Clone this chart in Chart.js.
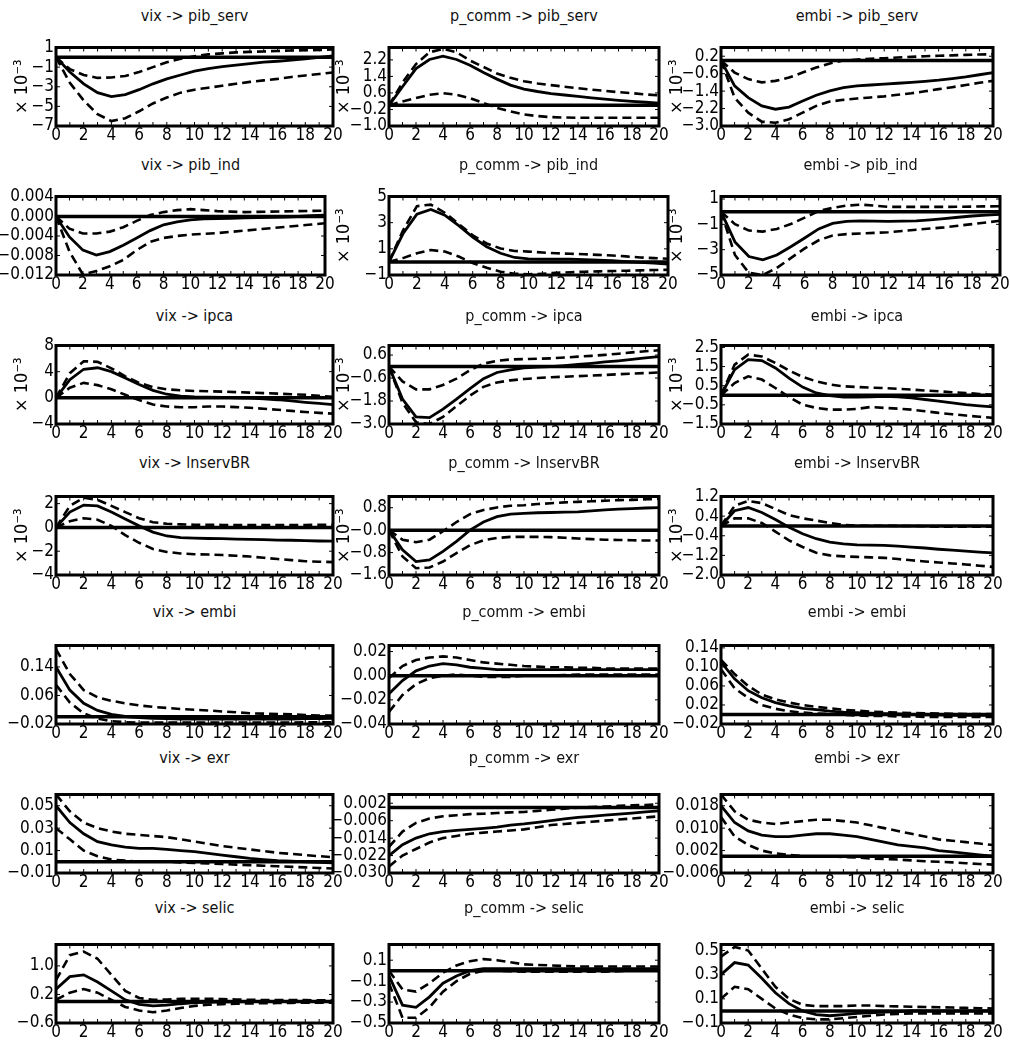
<!DOCTYPE html>
<html>
<head>
<meta charset="utf-8">
<script src="https://cdn.jsdelivr.net/npm/chart.js@4.4.1/dist/chart.umd.min.js"></script>
<style>
  body { margin: 0; background: #fff; }
  #page { position: relative; width: 1010px; height: 1041px; overflow: hidden; background: #fff; }
  #page canvas { position: absolute; }
  .title {
    position: absolute; text-align: center; white-space: nowrap;
    font: 16px "DejaVu Sans Condensed", "Liberation Sans Narrow", "DejaVu Sans", sans-serif;
    line-height: 20px; color: #111;
  }
</style>
</head>
<body>
<div id="page"></div>
<script>
// impulse response horizon (periods after the shock)
const horizon = [0, 1, 2, 3, 4, 5, 6, 7, 8, 9, 10, 11, 12, 13, 14, 15, 16, 17, 18, 19, 20];

// ---- pib_serv (x 10^-3) ----
const vixPibServ   = [0, -1.5, -2.7, -3.6, -4.0, -3.8, -3.3, -2.7, -2.2, -1.8, -1.4, -1.15, -0.95, -0.8, -0.65, -0.5, -0.4, -0.28, -0.15, 0.0, 0.15];
const vixPibServLo = [0, -2.6, -4.4, -5.8, -6.5, -6.2, -5.5, -4.7, -4.1, -3.6, -3.3, -3.1, -2.9, -2.7, -2.5, -2.35, -2.2, -2.0, -1.85, -1.7, -1.55];
const vixPibServHi = [0, -1.2, -1.8, -2.1, -2.05, -1.9, -1.5, -1.0, -0.5, -0.15, 0.1, 0.3, 0.4, 0.5, 0.55, 0.6, 0.65, 0.7, 0.72, 0.75, 0.8];
const vixPibServTicks = ['1', '-1', '-3', '-5', '-7'];

const pcommPibServ   = [0, 0.9, 1.78, 2.22, 2.38, 2.22, 1.94, 1.59, 1.27, 0.98, 0.79, 0.67, 0.57, 0.5, 0.43, 0.36, 0.3, 0.24, 0.19, 0.15, 0.11];
const pcommPibServLo = [0, 0.19, 0.35, 0.51, 0.59, 0.51, 0.35, 0.11, -0.13, -0.29, -0.44, -0.52, -0.57, -0.59, -0.6, -0.6, -0.6, -0.6, -0.6, -0.6, -0.6];
const pcommPibServHi = [0, 1.1, 2.0, 2.57, 2.73, 2.57, 2.17, 1.86, 1.54, 1.33, 1.17, 1.06, 0.98, 0.9, 0.83, 0.76, 0.7, 0.64, 0.59, 0.53, 0.48];
const pcommPibServTicks = ['2.2', '1.4', '0.6', '-0.2', '-1.0'];

const embiPibServ   = [0, -1.16, -1.7, -2.08, -2.23, -2.13, -1.85, -1.59, -1.39, -1.24, -1.16, -1.12, -1.08, -1.04, -1.0, -0.95, -0.9, -0.83, -0.75, -0.65, -0.55];
const embiPibServLo = [0, -1.7, -2.39, -2.8, -2.85, -2.69, -2.39, -2.08, -1.88, -1.8, -1.74, -1.69, -1.64, -1.57, -1.5, -1.41, -1.31, -1.22, -1.12, -1.02, -0.93];
const embiPibServHi = [0, -0.55, -0.85, -1.0, -0.93, -0.78, -0.55, -0.32, -0.13, 0.0, 0.05, 0.08, 0.11, 0.14, 0.17, 0.2, 0.22, 0.24, 0.26, 0.28, 0.29];
const embiPibServTicks = ['0.2', '-0.6', '-1.4', '-2.2', '-3.0'];

// ---- pib_ind ----
const vixPibInd   = [0, -0.0042, -0.0069, -0.0079, -0.0072, -0.0059, -0.0044, -0.0029, -0.0017, -0.0011, -0.0007, -0.0005, -0.00045, -0.0004, -0.0003, -0.00025, -0.0002, -0.0001, 0, 0.00015, 0.0003];
const vixPibIndLo = [0, -0.0072, -0.0119, -0.0112, -0.0102, -0.0089, -0.0069, -0.0052, -0.0044, -0.004, -0.0037, -0.00355, -0.0034, -0.00315, -0.0029, -0.00265, -0.0024, -0.00215, -0.0019, -0.00165, -0.0014];
const vixPibIndHi = [0, -0.0025, -0.0035, -0.0035, -0.0031, -0.0022, -0.0009, 0.0003, 0.0009, 0.0013, 0.0015, 0.0013, 0.0011, 0.001, 0.0009, 0.00095, 0.001, 0.00105, 0.0011, 0.00115, 0.0012];
const vixPibIndTicks = ['0.004', '0.000', '-0.004', '-0.008', '-0.012'];

const pcommPibInd   = [0, 2.15, 3.64, 4.01, 3.57, 2.77, 1.9, 1.16, 0.66, 0.34, 0.24, 0.22, 0.22, 0.22, 0.17, 0.13, 0.09, 0.03, -0.03, -0.1, -0.16];
const pcommPibIndLo = [0, 0.29, 0.66, 0.91, 0.79, 0.41, -0.08, -0.45, -0.75, -0.9, -0.95, -0.9, -0.83, -0.79, -0.75, -0.72, -0.7, -0.67, -0.65, -0.62, -0.6];
const pcommPibIndHi = [0, 2.4, 4.26, 4.38, 3.76, 2.9, 2.03, 1.41, 1.03, 0.84, 0.79, 0.72, 0.66, 0.62, 0.59, 0.54, 0.49, 0.42, 0.34, 0.29, 0.24];
const pcommPibIndTicks = ['5', '3', '1', '-1'];

const embiPibInd   = [0, -2.39, -3.54, -3.8, -3.42, -2.77, -2.08, -1.36, -0.93, -0.77, -0.72, -0.74, -0.77, -0.75, -0.72, -0.64, -0.54, -0.44, -0.34, -0.27, -0.21];
const embiPibIndLo = [0, -3.42, -4.83, -5.0, -4.44, -3.67, -2.9, -2.26, -1.88, -1.77, -1.72, -1.67, -1.62, -1.52, -1.42, -1.33, -1.24, -1.11, -0.98, -0.85, -0.72];
const embiPibIndHi = [0, -0.98, -1.49, -1.57, -1.36, -0.98, -0.47, 0.05, 0.3, 0.48, 0.56, 0.48, 0.38, 0.38, 0.38, 0.38, 0.38, 0.39, 0.4, 0.42, 0.43];
const embiPibIndTicks = ['1', '-1', '-3', '-5'];

// ---- ipca (x 10^-3) ----
const vixIpca   = [0, 2.78, 4.37, 4.6, 4.0, 3.03, 2.04, 1.15, 0.55, 0.26, 0.16, 0.11, 0.06, 0.01, -0.04, -0.15, -0.29, -0.48, -0.68, -0.85, -1.03];
const vixIpcaLo = [0, 1.54, 2.29, 1.94, 1.3, 0.46, -0.34, -1.03, -1.33, -1.43, -1.43, -1.33, -1.33, -1.42, -1.52, -1.67, -1.82, -2.0, -2.17, -2.3, -2.42];
const vixIpcaHi = [0, 3.77, 5.6, 5.5, 4.51, 3.28, 2.29, 1.64, 1.3, 1.15, 1.05, 1.0, 0.95, 0.88, 0.8, 0.72, 0.65, 0.55, 0.46, 0.3, 0.16];
const vixIpcaTicks = ['8', '4', '0', '-4'];

const pcommIpca   = [0, -1.7, -2.63, -2.67, -2.22, -1.7, -1.15, -0.63, -0.31, -0.17, -0.07, -0.03, 0, 0.05, 0.11, 0.17, 0.24, 0.3, 0.37, 0.45, 0.52];
const pcommIpcaLo = [0, -1.89, -2.91, -3.0, -2.63, -2.07, -1.52, -1.06, -0.83, -0.72, -0.65, -0.6, -0.56, -0.53, -0.5, -0.47, -0.44, -0.4, -0.37, -0.34, -0.31];
const pcommIpcaHi = [0, -0.78, -1.19, -1.19, -0.96, -0.63, -0.19, 0.15, 0.3, 0.37, 0.39, 0.41, 0.43, 0.47, 0.52, 0.56, 0.61, 0.67, 0.74, 0.8, 0.85];
const pcommIpcaTicks = ['0.6', '-0.6', '-1.8', '-3.0'];

const embiIpca   = [0, 1.34, 1.86, 1.81, 1.43, 0.9, 0.43, 0.12, -0.02, -0.09, -0.1, -0.08, -0.05, -0.08, -0.14, -0.22, -0.31, -0.4, -0.49, -0.55, -0.61];
const embiIpcaLo = [0, 0.64, 0.99, 0.82, 0.38, -0.09, -0.49, -0.66, -0.75, -0.75, -0.71, -0.61, -0.66, -0.7, -0.75, -0.83, -0.92, -0.99, -1.06, -1.12, -1.18];
const embiIpcaHi = [0, 1.6, 2.12, 2.03, 1.69, 1.3, 0.96, 0.73, 0.56, 0.47, 0.43, 0.4, 0.38, 0.34, 0.3, 0.25, 0.21, 0.16, 0.12, 0.07, 0.03];
const embiIpcaTicks = ['2.5', '1.5', '0.5', '-0.5', '-1.5'];

// ---- lnservBR (x 10^-3) ----
const vixServ   = [0, 1.29, 1.88, 1.81, 1.29, 0.7, 0.13, -0.39, -0.72, -0.85, -0.9, -0.93, -0.95, -0.98, -1.0, -1.03, -1.06, -1.08, -1.11, -1.14, -1.16];
const vixServLo = [0, 0.52, 0.77, 0.65, 0.13, -0.65, -1.29, -1.81, -2.06, -2.19, -2.25, -2.28, -2.32, -2.38, -2.45, -2.55, -2.66, -2.75, -2.84, -2.88, -2.92];
const vixServHi = [0, 1.81, 2.5, 2.32, 1.81, 1.29, 0.77, 0.44, 0.31, 0.26, 0.23, 0.22, 0.21, 0.2, 0.19, 0.19, 0.19, 0.2, 0.21, 0.22, 0.23];
const vixServTicks = ['2', '0', '-2', '-4'];

const pcommServ   = [0, -0.7, -1.12, -1.06, -0.76, -0.4, 0, 0.29, 0.48, 0.57, 0.6, 0.62, 0.63, 0.64, 0.65, 0.69, 0.72, 0.75, 0.77, 0.79, 0.8];
const pcommServLo = [0, -0.94, -1.36, -1.33, -1.12, -0.82, -0.54, -0.36, -0.28, -0.24, -0.24, -0.24, -0.25, -0.27, -0.3, -0.32, -0.34, -0.35, -0.36, -0.37, -0.37];
const pcommServHi = [0, -0.34, -0.43, -0.34, -0.04, 0.29, 0.57, 0.72, 0.81, 0.87, 0.89, 0.93, 0.96, 0.99, 1.01, 1.03, 1.05, 1.07, 1.08, 1.1, 1.11];
const pcommServTicks = ['0.8', '-0.0', '-0.8', '-1.6'];

const embiServ   = [0, 0.62, 0.75, 0.55, 0.26, -0.05, -0.32, -0.52, -0.66, -0.73, -0.77, -0.78, -0.79, -0.82, -0.86, -0.9, -0.95, -0.99, -1.03, -1.07, -1.1];
const embiServLo = [0, 0.31, 0.31, 0.12, -0.23, -0.59, -0.86, -1.09, -1.2, -1.24, -1.26, -1.28, -1.3, -1.35, -1.4, -1.45, -1.49, -1.53, -1.57, -1.62, -1.67];
const embiServHi = [0, 0.82, 1.02, 0.93, 0.69, 0.44, 0.31, 0.22, 0.12, 0.04, 0.01, 0.01, 0.01, 0.0, 0.0, -0.01, -0.03, -0.03, -0.03, -0.03, -0.03];
const embiServTicks = ['1.2', '0.4', '-0.4', '-1.2', '-2.0'];

// ---- embi ----
const vixEmbi   = [0.14, 0.075, 0.038, 0.018, 0.007, 0.001, -0.002, -0.004, -0.005, -0.006, -0.006, -0.006, -0.006, -0.006, -0.006, -0.006, -0.006, -0.006, -0.005, -0.005, -0.004];
const vixEmbiLo = [0.09, 0.04, 0.01, -0.005, -0.012, -0.015, -0.016, -0.016, -0.016, -0.016, -0.016, -0.016, -0.016, -0.016, -0.016, -0.016, -0.016, -0.016, -0.015, -0.015, -0.015];
const vixEmbiHi = [0.19, 0.12, 0.075, 0.055, 0.045, 0.038, 0.032, 0.028, 0.025, 0.022, 0.02, 0.018, 0.015, 0.013, 0.01, 0.009, 0.008, 0.007, 0.005, 0.004, 0.004];
const vixEmbiTicks = ['0.14', '0.06', '-0.02'];

const pcommEmbi   = [-0.015, -0.004, 0.004, 0.008, 0.01, 0.009, 0.007, 0.006, 0.005, 0.005, 0.005, 0.005, 0.005, 0.005, 0.005, 0.005, 0.005, 0.005, 0.005, 0.005, 0.005];
const pcommEmbiLo = [-0.03, -0.016, -0.007, -0.002, 0.0, 0.001, 0.0, -0.001, -0.001, -0.001, 0.0, 0.0, 0.0, 0.0005, 0.001, 0.001, 0.001, 0.001, 0.001, 0.001, 0.001];
const pcommEmbiHi = [-0.002, 0.008, 0.013, 0.015, 0.016, 0.015, 0.013, 0.011, 0.01, 0.009, 0.008, 0.0075, 0.007, 0.007, 0.0065, 0.0065, 0.006, 0.006, 0.006, 0.006, 0.006];
const pcommEmbiTicks = ['0.02', '0.00', '-0.02', '-0.04'];

const embiEmbi   = [0.11, 0.075, 0.05, 0.035, 0.025, 0.018, 0.013, 0.01, 0.007, 0.005, 0.004, 0.003, 0.002, 0.001, 0.0, -0.001, -0.001, -0.002, -0.002, -0.002, -0.002];
const embiEmbiLo = [0.095, 0.055, 0.035, 0.02, 0.012, 0.007, 0.004, 0.002, 0.001, -0.001, -0.002, -0.003, -0.003, -0.004, -0.004, -0.005, -0.005, -0.005, -0.005, -0.005, -0.005];
const embiEmbiHi = [0.115, 0.085, 0.06, 0.042, 0.032, 0.025, 0.02, 0.016, 0.013, 0.01, 0.008, 0.006, 0.005, 0.004, 0.003, 0.0025, 0.002, 0.0015, 0.001, 0.001, 0.001];
const embiEmbiTicks = ['0.14', '0.10', '0.06', '0.02', '-0.02'];

// ---- exr ----
const vixExr   = [0.05, 0.035, 0.025, 0.018, 0.015, 0.013, 0.012, 0.012, 0.011, 0.01, 0.009, 0.0075, 0.006, 0.0045, 0.003, 0.002, 0.001, 0.0005, 0.0, -0.0005, -0.001];
const vixExrLo = [0.03, 0.02, 0.01, 0.005, 0.002, 0.001, 0.0, 0.0, 0.0, -0.0005, -0.001, -0.0015, -0.002, -0.0025, -0.003, -0.0035, -0.004, -0.0045, -0.005, -0.0055, -0.006];
const vixExrHi = [0.06, 0.045, 0.035, 0.03, 0.027, 0.025, 0.024, 0.023, 0.022, 0.02, 0.018, 0.016, 0.014, 0.0125, 0.011, 0.0095, 0.008, 0.007, 0.006, 0.005, 0.004];
const vixExrTicks = ['0.05', '0.03', '0.01', '-0.01'];

const pcommExr   = [-0.022, -0.017, -0.014, -0.012, -0.011, -0.0105, -0.01, -0.0095, -0.009, -0.008, -0.0075, -0.0068, -0.006, -0.0052, -0.0045, -0.004, -0.0035, -0.003, -0.0025, -0.002, -0.0015];
const pcommExrLo = [-0.027, -0.022, -0.019, -0.016, -0.014, -0.013, -0.012, -0.0115, -0.011, -0.0105, -0.01, -0.009, -0.008, -0.0075, -0.007, -0.0065, -0.006, -0.0055, -0.005, -0.0045, -0.004];
const pcommExrHi = [-0.018, -0.011, -0.007, -0.005, -0.004, -0.0035, -0.003, -0.0028, -0.0025, -0.0022, -0.002, -0.0015, -0.001, -0.0005, 0.0, 0.0003, 0.0005, 0.0008, 0.001, 0.0012, 0.0015];
const pcommExrTicks = ['0.002', '-0.006', '-0.014', '-0.022', '-0.030'];

const embiExr   = [0.018, 0.012, 0.009, 0.0075, 0.007, 0.007, 0.0075, 0.008, 0.008, 0.0075, 0.007, 0.006, 0.005, 0.004, 0.0035, 0.003, 0.002, 0.0015, 0.001, 0.0005, 0.0];
const embiExrLo = [0.014, 0.007, 0.004, 0.002, 0.001, 0.0005, 0.0, 0.0, 0.0, -0.0003, -0.0005, -0.0008, -0.001, -0.0012, -0.0015, -0.0018, -0.002, -0.0022, -0.0025, -0.0028, -0.003];
const embiExrHi = [0.022, 0.016, 0.013, 0.012, 0.0115, 0.012, 0.0125, 0.013, 0.013, 0.0125, 0.012, 0.011, 0.01, 0.009, 0.008, 0.007, 0.006, 0.0055, 0.005, 0.0045, 0.004];
const embiExrTicks = ['0.018', '0.010', '0.002', '-0.006'];

// ---- selic ----
const vixSelic   = [0.35, 0.7, 0.75, 0.55, 0.3, 0.05, -0.08, -0.12, -0.1, -0.06, -0.03, -0.02, -0.01, -0.005, 0.0, 0.0, 0.0, 0.0, 0.0, 0.0, 0.0];
const vixSelicLo = [0.05, 0.25, 0.35, 0.25, 0.05, -0.15, -0.25, -0.3, -0.25, -0.18, -0.12, -0.09, -0.07, -0.06, -0.05, -0.045, -0.04, -0.035, -0.03, -0.03, -0.03];
const vixSelicHi = [0.6, 1.3, 1.4, 1.2, 0.75, 0.3, 0.1, 0.05, 0.06, 0.08, 0.08, 0.08, 0.07, 0.06, 0.05, 0.045, 0.04, 0.04, 0.04, 0.035, 0.03];
const vixSelicTicks = ['1.0', '0.2', '-0.6'];

const pcommSelic   = [-0.05, -0.33, -0.35, -0.25, -0.12, -0.05, 0.0, 0.02, 0.02, 0.02, 0.02, 0.02, 0.02, 0.02, 0.02, 0.02, 0.02, 0.02, 0.02, 0.02, 0.02];
const pcommSelicLo = [-0.12, -0.45, -0.45, -0.35, -0.2, -0.1, -0.03, 0.0, 0.0, -0.005, -0.01, -0.01, -0.01, -0.01, -0.01, -0.01, -0.01, -0.005, 0.0, 0.0, 0.0];
const pcommSelicHi = [0.0, -0.18, -0.2, -0.12, -0.02, 0.05, 0.09, 0.11, 0.1, 0.08, 0.06, 0.055, 0.05, 0.045, 0.04, 0.04, 0.04, 0.04, 0.04, 0.04, 0.04];
const pcommSelicTicks = ['0.1', '-0.1', '-0.3', '-0.5'];

const embiSelic   = [0.3, 0.4, 0.38, 0.27, 0.15, 0.06, 0.0, -0.03, -0.04, -0.03, -0.02, -0.015, -0.01, -0.005, 0.0, 0.0, 0.0, 0.0, 0.0, 0.0, 0.0];
const embiSelicLo = [0.1, 0.2, 0.18, 0.1, 0.02, -0.03, -0.06, -0.07, -0.07, -0.06, -0.05, -0.04, -0.03, -0.025, -0.02, -0.02, -0.02, -0.02, -0.02, -0.02, -0.02];
const embiSelicHi = [0.45, 0.53, 0.5, 0.35, 0.2, 0.1, 0.05, 0.04, 0.04, 0.04, 0.045, 0.045, 0.04, 0.038, 0.035, 0.032, 0.03, 0.028, 0.025, 0.022, 0.02];
const embiSelicTicks = ['0.5', '0.3', '0.1', '-0.1'];

// one entry per panel, row by row (response) and column by column (shock)
const panels = [
  { title: 'vix -> pib_serv',    mid: vixPibServ,   lo: vixPibServLo,   hi: vixPibServHi,   ticks: vixPibServTicks,   min: -7,     max: 1,     milli: true },
  { title: 'p_comm -> pib_serv', mid: pcommPibServ, lo: pcommPibServLo, hi: pcommPibServHi, ticks: pcommPibServTicks, min: -1.0,   max: 2.8,   milli: true },
  { title: 'embi -> pib_serv',   mid: embiPibServ,  lo: embiPibServLo,  hi: embiPibServHi,  ticks: embiPibServTicks,  min: -3.0,   max: 0.6,   milli: true },
  { title: 'vix -> pib_ind',     mid: vixPibInd,    lo: vixPibIndLo,    hi: vixPibIndHi,    ticks: vixPibIndTicks,    min: -0.012, max: 0.0041 },
  { title: 'p_comm -> pib_ind',  mid: pcommPibInd,  lo: pcommPibIndLo,  hi: pcommPibIndHi,  ticks: pcommPibIndTicks,  min: -1,     max: 5,     milli: true },
  { title: 'embi -> pib_ind',    mid: embiPibInd,   lo: embiPibIndLo,   hi: embiPibIndHi,   ticks: embiPibIndTicks,   min: -5,     max: 1.2,   milli: true },
  { title: 'vix -> ipca',        mid: vixIpca,      lo: vixIpcaLo,      hi: vixIpcaHi,      ticks: vixIpcaTicks,      min: -4,     max: 8,     milli: true },
  { title: 'p_comm -> ipca',     mid: pcommIpca,    lo: pcommIpcaLo,    hi: pcommIpcaHi,    ticks: pcommIpcaTicks,    min: -3.0,   max: 1.1,   milli: true },
  { title: 'embi -> ipca',       mid: embiIpca,     lo: embiIpcaLo,     hi: embiIpcaHi,     ticks: embiIpcaTicks,     min: -1.5,   max: 2.6,   milli: true },
  { title: 'vix -> lnservBR',    mid: vixServ,      lo: vixServLo,      hi: vixServHi,      ticks: vixServTicks,      min: -4,     max: 2.6,   milli: true },
  { title: 'p_comm -> lnservBR', mid: pcommServ,    lo: pcommServLo,    hi: pcommServHi,    ticks: pcommServTicks,    min: -1.6,   max: 1.2,   milli: true },
  { title: 'embi -> lnservBR',   mid: embiServ,     lo: embiServLo,     hi: embiServHi,     ticks: embiServTicks,     min: -2.0,   max: 1.2,   milli: true },
  { title: 'vix -> embi',        mid: vixEmbi,      lo: vixEmbiLo,      hi: vixEmbiHi,      ticks: vixEmbiTicks,      min: -0.02,  max: 0.2 },
  { title: 'p_comm -> embi',     mid: pcommEmbi,    lo: pcommEmbiLo,    hi: pcommEmbiHi,    ticks: pcommEmbiTicks,    min: -0.04,  max: 0.025 },
  { title: 'embi -> embi',       mid: embiEmbi,     lo: embiEmbiLo,     hi: embiEmbiHi,     ticks: embiEmbiTicks,     min: -0.02,  max: 0.145 },
  { title: 'vix -> exr',         mid: vixExr,       lo: vixExrLo,       hi: vixExrHi,       ticks: vixExrTicks,       min: -0.01,  max: 0.06 },
  { title: 'p_comm -> exr',      mid: pcommExr,     lo: pcommExrLo,     hi: pcommExrHi,     ticks: pcommExrTicks,     min: -0.03,  max: 0.006 },
  { title: 'embi -> exr',        mid: embiExr,      lo: embiExrLo,      hi: embiExrHi,      ticks: embiExrTicks,      min: -0.006, max: 0.022 },
  { title: 'vix -> selic',       mid: vixSelic,     lo: vixSelicLo,     hi: vixSelicHi,     ticks: vixSelicTicks,     min: -0.6,   max: 1.6 },
  { title: 'p_comm -> selic',    mid: pcommSelic,   lo: pcommSelicLo,   hi: pcommSelicHi,   ticks: pcommSelicTicks,   min: -0.5,   max: 0.25 },
  { title: 'embi -> selic',      mid: embiSelic,    lo: embiSelicLo,    hi: embiSelicHi,    ticks: embiSelicTicks,    min: -0.1,   max: 0.55 }
];

// grid of panels
const FONT = '"DejaVu Sans Condensed", "Liberation Sans Narrow", "DejaVu Sans", sans-serif';
const titleY = [16, 165, 316, 463, 612, 758, 908];
const rowTop = [47, 196, 345, 496, 645, 794, 944];
const boxH = 79;
const canvasX = [0, 330, 662];
const boxLeft = [56, 389, 721];
const boxRight = [333, 659, 993];
const row2Right = [325, 668, 1000];
const unitPad = [12, 4, 5];

// frame around the plot area plus small inward tick marks
const frame = {
  id: 'frame',
  afterDatasetsDraw(chart) {
    const { ctx, chartArea: a, scales: { x, y } } = chart;
    ctx.save();
    ctx.strokeStyle = '#000';
    ctx.lineWidth = 1;
    ctx.beginPath();
    horizon.forEach(t => {
      const px = x.getPixelForValue(t);
      ctx.moveTo(px, a.top); ctx.lineTo(px, a.top + 4);
      ctx.moveTo(px, a.bottom); ctx.lineTo(px, a.bottom - 4);
    });
    y.ticks.forEach(tk => {
      const py = y.getPixelForValue(tk.value);
      ctx.moveTo(a.left, py); ctx.lineTo(a.left + 4, py);
      ctx.moveTo(a.right, py); ctx.lineTo(a.right - 4, py);
    });
    ctx.stroke();
    ctx.lineWidth = 3;
    ctx.strokeRect(a.left, a.top, a.right - a.left, a.bottom - a.top);
    ctx.restore();
  }
};

const page = document.getElementById('page');

panels.forEach((p, i) => {
  const r = Math.floor(i / 3), c = i % 3;
  const left = boxLeft[c];
  const right = r === 1 ? row2Right[c] : boxRight[c];
  const cx = canvasX[c];

  const head = document.createElement('div');
  head.className = 'title';
  head.textContent = p.title;
  head.style.left = left + 'px';
  head.style.width = (right - left) + 'px';
  head.style.top = (titleY[r] - 10) + 'px';
  page.appendChild(head);

  const cv = document.createElement('canvas');
  cv.width = right + 16 - cx;
  cv.height = 10 + boxH + 22;
  cv.style.left = cx + 'px';
  cv.style.top = (rowTop[r] - 10) + 'px';
  page.appendChild(cv);

  const line = (data, dashed, width) => ({
    data, borderColor: '#000', borderWidth: width, borderDash: dashed ? [9, 5] : [],
    pointRadius: 0, tension: 0, fill: false
  });

  new Chart(cv, {
    type: 'line',
    data: {
      labels: horizon,
      datasets: [
        line(p.mid, false, 2.8),
        line(p.hi, true, 2.6),
        line(p.lo, true, 2.6),
        line(horizon.map(() => 0), false, 3.5)
      ]
    },
    plugins: [frame],
    options: {
      responsive: false,
      animation: false,
      devicePixelRatio: 1,
      layout: { padding: { top: 10, right: 16, left: 0, bottom: 0 } },
      plugins: { legend: { display: false }, tooltip: { enabled: false } },
      scales: {
        x: {
          type: 'linear', min: 0, max: 20,
          grid: { display: false, drawTicks: false }, border: { display: false },
          afterBuildTicks: s => { s.ticks = horizon.map(v => ({ value: v })); },
          afterFit: s => { s.height = 22; },
          ticks: {
            autoSkip: false, maxRotation: 0, padding: 1, color: '#000',
            font: { family: FONT, size: 17, lineHeight: 1 },
            callback: v => (v % 2 === 0 ? String(v) : '')
          }
        },
        y: {
          type: 'linear', min: p.min, max: p.max, bounds: 'data',
          grid: { display: false, drawTicks: false }, border: { display: false },
          afterBuildTicks: s => {
            s.ticks = p.ticks.map(t => ({ value: Number(t) })).sort((a, b) => a.value - b.value);
          },
          afterFit: s => { s.width = left - cx; },
          ticks: {
            autoSkip: false, padding: 2, color: '#000',
            font: { family: FONT, size: 17, lineHeight: 1 },
            callback: v => {
              const s = p.ticks.find(t => Number(t) === v);
              return s ? s.replace('-', '\u2212') : '';
            }
          },
          title: {
            display: !!p.milli, text: '\u00d7 10\u207b\u00b3', color: '#000',
            font: { family: FONT, size: 18 },
            padding: { top: unitPad[c], bottom: 0 }
          }
        }
      }
    }
  });
});
</script>
</body>
</html>
